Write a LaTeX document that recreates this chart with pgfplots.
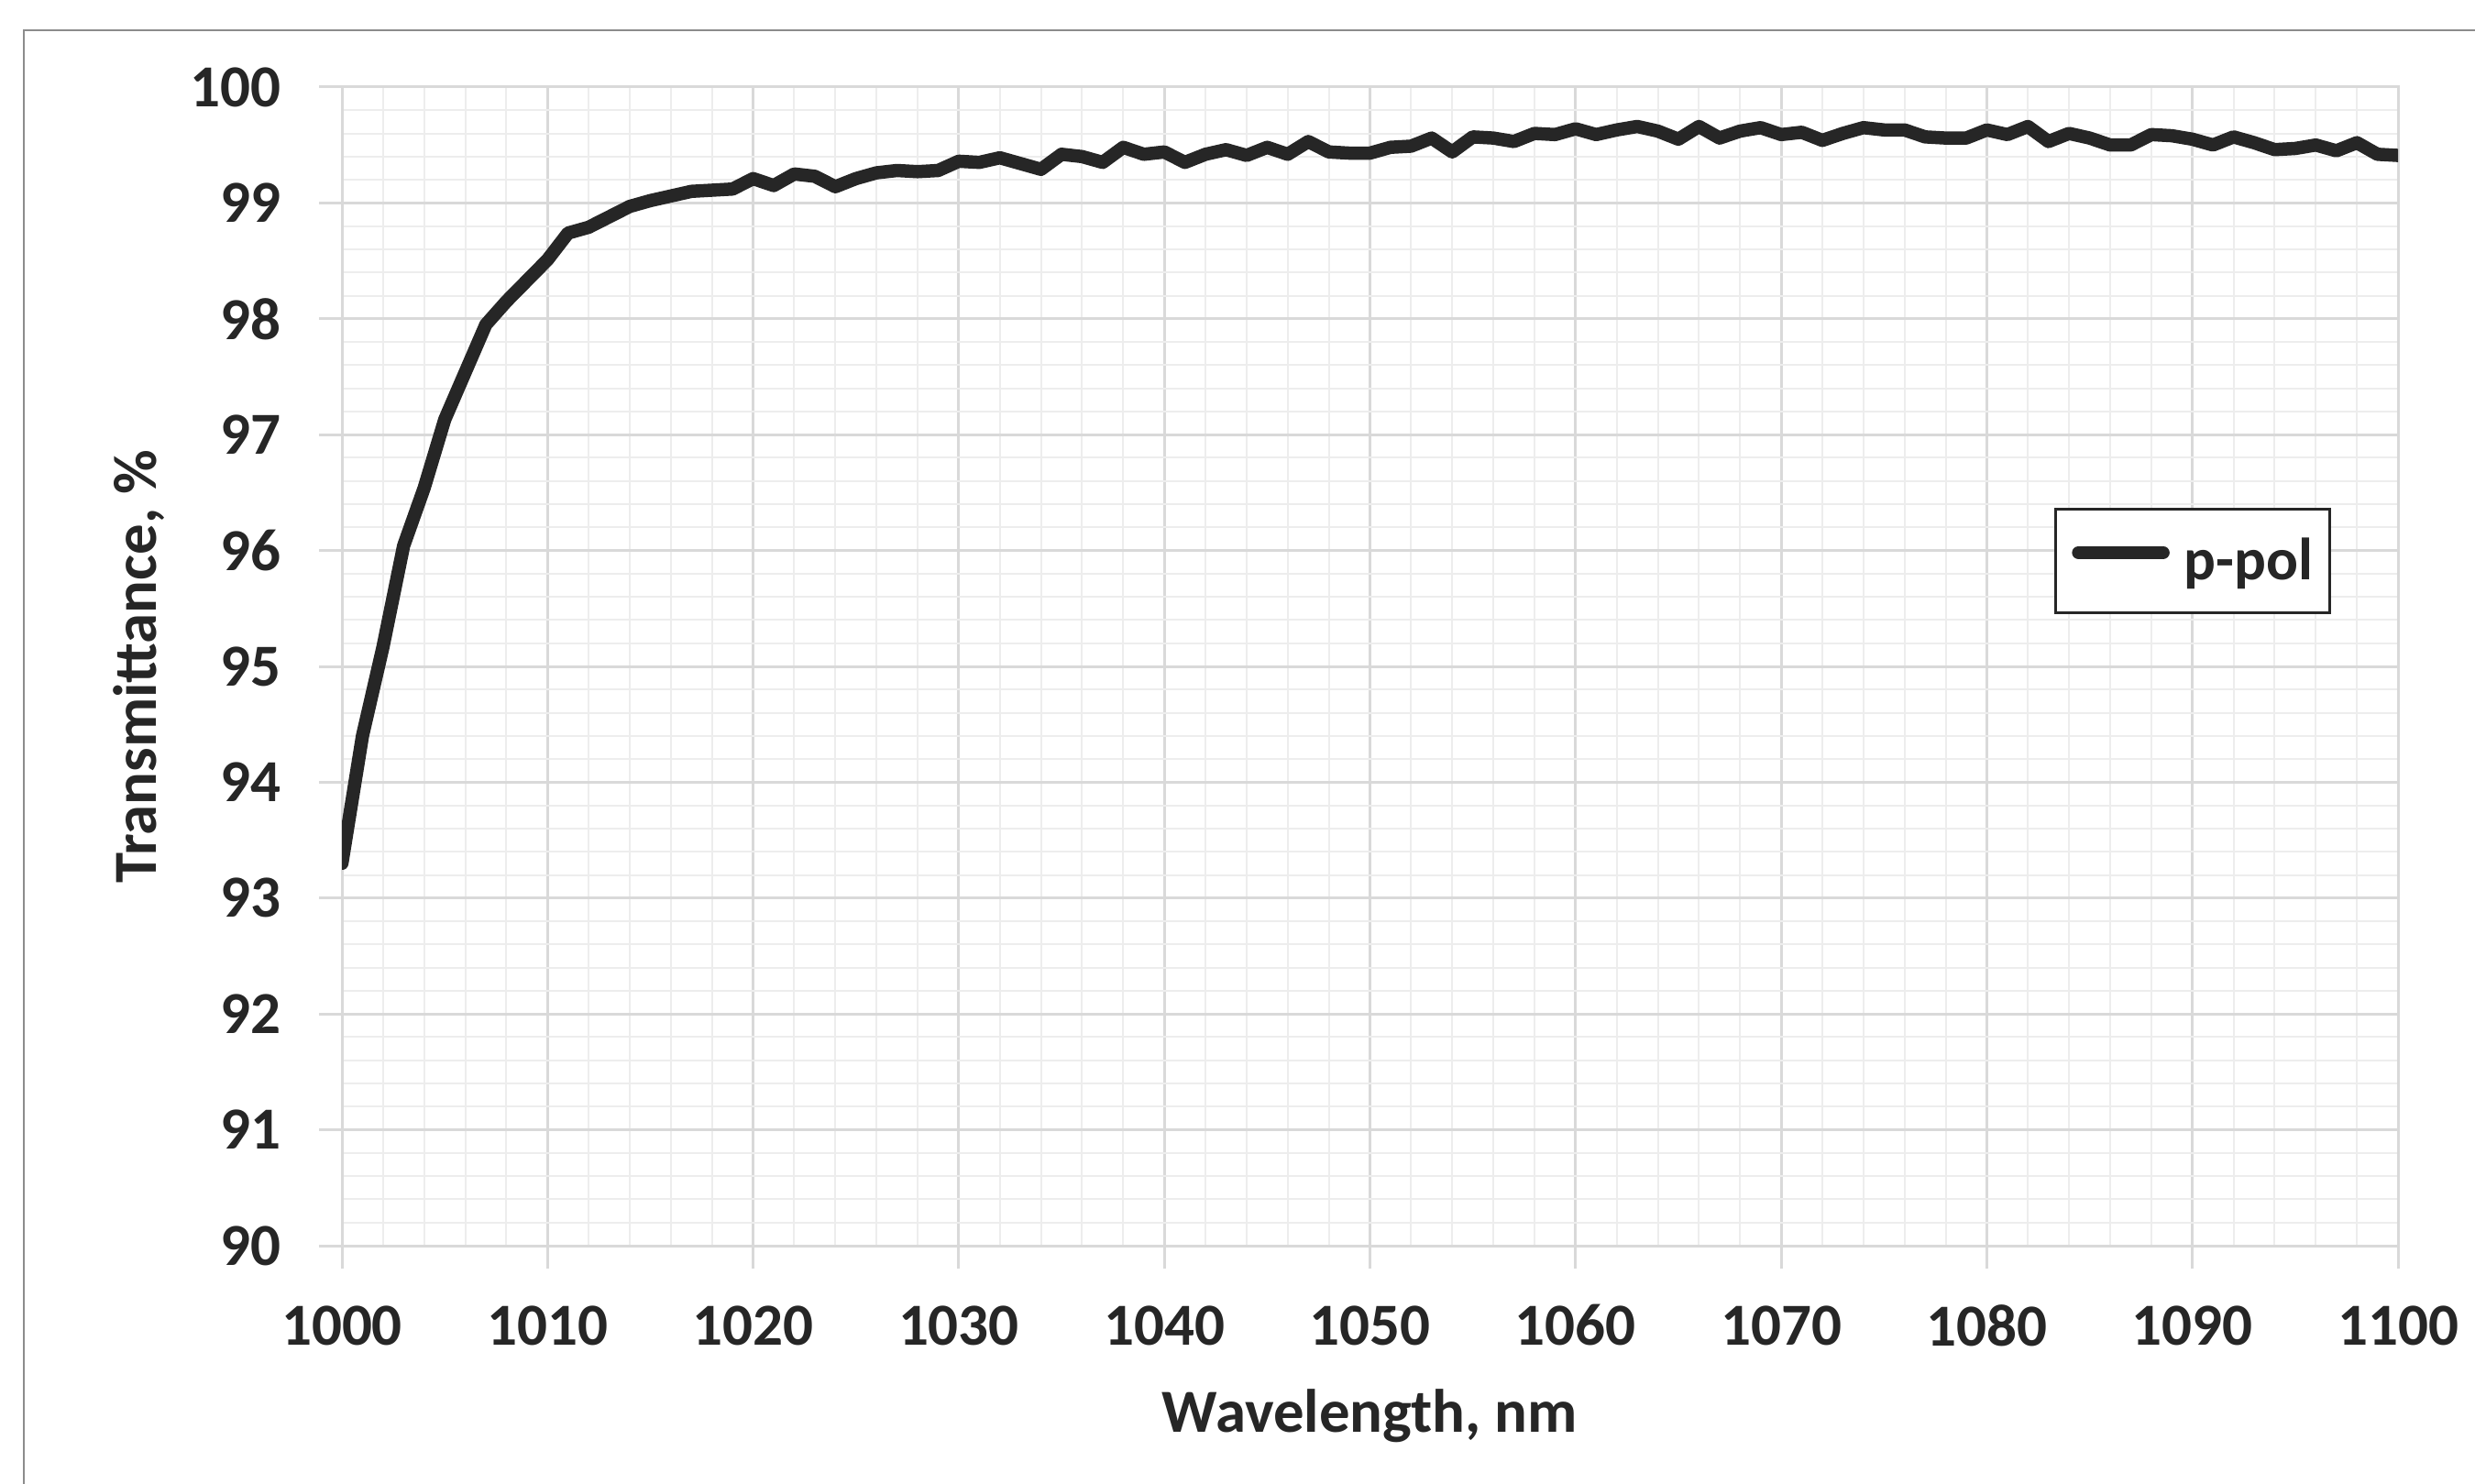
\documentclass[border=0pt]{standalone}
\usepackage{fontspec}
\setmainfont{Carlito}
\usepackage{pgfplots}
\pgfplotsset{compat=1.18}
\usepackage{pgfplotstable}
\definecolor{gridmaj}{HTML}{D9D9D9}
\definecolor{gridmin}{HTML}{EDEDED}
\definecolor{txt}{HTML}{262626}
\definecolor{curve}{HTML}{262626}
\definecolor{frame}{HTML}{8C8C8C}

\pgfplotstableread{
wl T
1000 93.30
1001 94.40
1002 95.17
1003 96.04
1004 96.54
1005 97.13
1006 97.54
1007 97.95
1008 98.15
1009 98.33
1010 98.51
1011 98.74
1012 98.79
1013 98.88
1014 98.97
1015 99.02
1016 99.06
1017 99.10
1018 99.11
1019 99.12
1020 99.21
1021 99.15
1022 99.25
1023 99.23
1024 99.14
1025 99.21
1026 99.26
1027 99.28
1028 99.27
1029 99.28
1030 99.36
1031 99.35
1032 99.39
1033 99.34
1034 99.29
1035 99.42
1036 99.40
1037 99.35
1038 99.48
1039 99.42
1040 99.44
1041 99.35
1042 99.42
1043 99.46
1044 99.41
1045 99.48
1046 99.42
1047 99.53
1048 99.44
1049 99.43
1050 99.43
1051 99.48
1052 99.49
1053 99.56
1054 99.44
1055 99.57
1056 99.56
1057 99.53
1058 99.60
1059 99.59
1060 99.64
1061 99.59
1062 99.63
1063 99.66
1064 99.62
1065 99.55
1066 99.66
1067 99.56
1068 99.62
1069 99.65
1070 99.59
1071 99.61
1072 99.54
1073 99.60
1074 99.65
1075 99.63
1076 99.63
1077 99.57
1078 99.56
1079 99.56
1080 99.63
1081 99.59
1082 99.66
1083 99.53
1084 99.60
1085 99.56
1086 99.50
1087 99.50
1088 99.59
1089 99.58
1090 99.55
1091 99.50
1092 99.57
1093 99.52
1094 99.46
1095 99.47
1096 99.50
1097 99.45
1098 99.52
1099 99.42
1100 99.41
}\ppol

\begin{document}
\begin{tikzpicture}
\useasboundingbox (0,0) rectangle (270mm,161.8mm);
\fill[white] (0,0) rectangle (270mm,161.8mm);
\draw[line width=0.25mm, color=frame] (2.6mm,-1mm) -- (2.6mm,158.5mm) -- (271mm,158.5mm);
\begin{axis}[
  at={(37.3mm,25.9mm)}, anchor=south west,
  scale only axis, width=224.3mm, height=126.4mm,
  xmin=1000, xmax=1100, ymin=90, ymax=100,
  xtick={1000,1010,...,1100}, ytick={90,91,...,100},
  minor x tick num=4, minor y tick num=4,
  grid=both,
  major grid style={line width=0.3mm, color=gridmaj},
  minor grid style={line width=0.2mm, color=gridmin},
  axis line style={line width=0.3mm, color=gridmaj},
  xtick pos=lower, ytick pos=left,
  tick align=outside, major tick length=2.5mm, minor tick length=0pt,
  tick style={line width=0.3mm, color=gridmaj},
  /pgf/number format/1000 sep={},
  /pgf/number format/assume math mode=true,
  ticklabel style={font=\fontsize{18.5}{22}\selectfont\bfseries, text=txt, inner sep=0pt},
  xticklabel style={anchor=center, yshift=-6.2mm},
  yticklabel style={anchor=east, xshift=-4.1mm},
  xlabel={Wavelength, nm},
  ylabel={Transmittance, \%},
  label style={font=\fontsize{19}{23}\selectfont\bfseries, text=txt, inner sep=0pt},
  xlabel style={at={(axis description cs:0.5,-0.147)}, anchor=center},
  ylabel style={at={(axis description cs:-0.0985,0.5)}, anchor=center},
  legend style={at={(axis description cs:0.9675,0.6369)}, anchor=north east,
    draw=black!85, line width=0.33mm, fill=white,
    inner xsep=1.8mm, inner ysep=3.1mm,
    font=\fontsize{18.5}{22}\selectfont\bfseries, text=txt,
    nodes={inner sep=0pt}, column sep=1.6mm},
  legend image code/.code={\draw[#1, line width=1.45mm, line cap=round] (1.2mm,0.55ex) -- (10.4mm,0.55ex);},
]
\addplot[color=curve, line width=1.45mm, line join=round, line cap=round] table[x=wl, y=T] {\ppol};
\addlegendentry{p-pol}
\end{axis}
\end{tikzpicture}
\end{document}
